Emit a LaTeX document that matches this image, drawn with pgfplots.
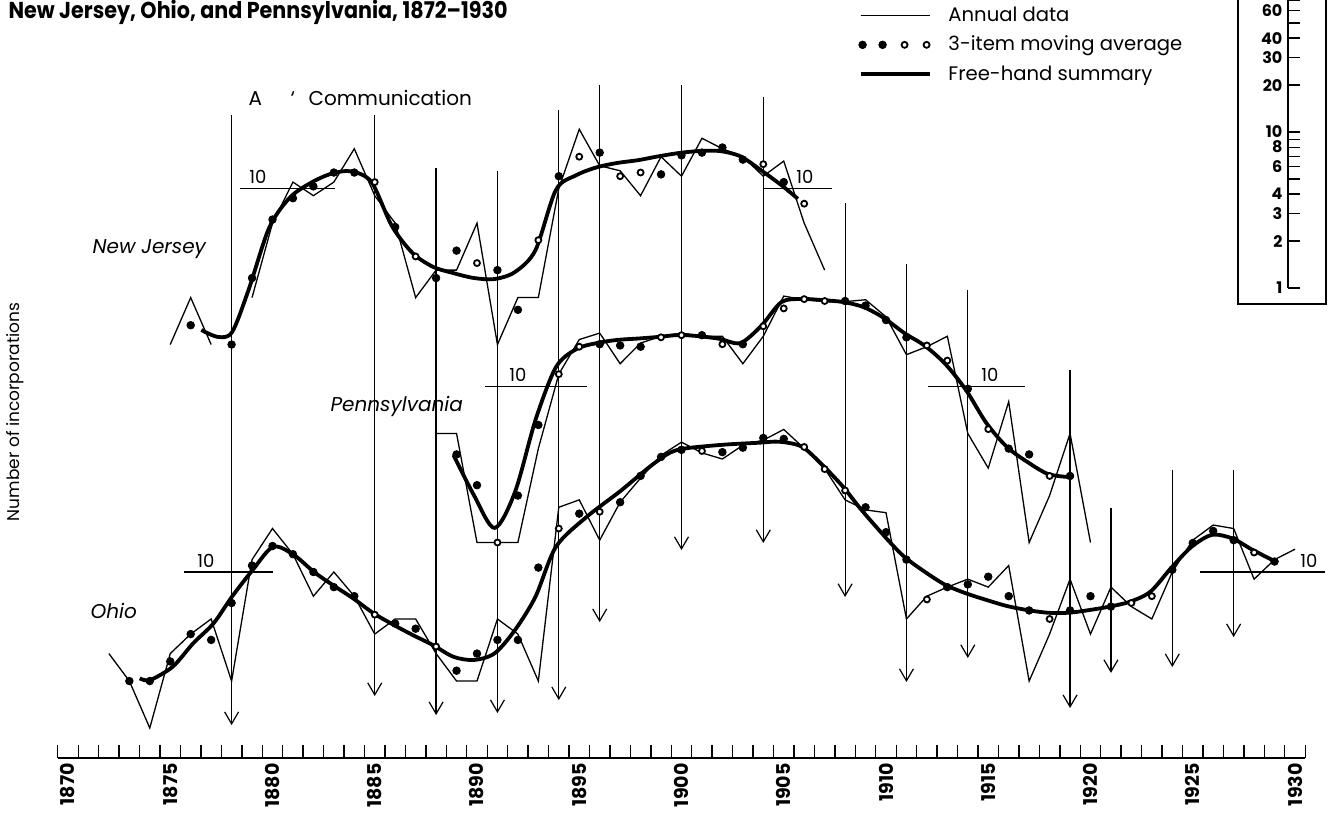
\documentclass[border=0pt]{standalone}
\usepackage{fontspec}
\setmainfont{Poppins}
\usepackage{pgfplots}
\usepackage{pgfplotstable}
\pgfplotsset{compat=1.18}
\usetikzlibrary{arrows.meta}

% ---------------- New Jersey ----------------
\pgfplotstableread{
yr c
1875 1
1876 2
1877 1
}\njAa
\pgfplotstableread{
yr c
1879 2
1880 6
1881 11
1882 9
1883 11
1884 18
1885 9
1886 6
1887 2
1888 3
1889 3
1890 6
1891 1
1892 2
1893 2
1894 10
1895 24
1896 14
1897 13
1898 9
1899 16
1900 12
1901 21
1902 18
1903 16
1904 12
1905 15
1906 6
1907 3
}\njAb
\pgfplotstableread{
yr c k
1876 1.33 f
1878 1.00 f
1879 2.67 f
1880 6.33 f
1881 8.67 f
1882 10.33 f
1883 12.67 f
1884 12.67 f
1885 11.00 o
1886 5.67 f
1887 3.67 o
1888 2.67 f
1889 4.00 f
1890 3.33 o
1891 3.00 f
1892 1.67 f
1893 4.67 o
1894 12.00 f
1895 16.00 o
1896 17.00 f
1897 12.00 o
1898 12.67 o
1899 12.33 f
1900 16.33 f
1901 17.00 f
1902 18.33 f
1903 15.33 f
1904 14.33 o
1905 11.00 f
1906 8.00 o
}\njMA
\pgfplotstableread{
yr c
1876.52 1.24
1877.32 1.12
1878.02 1.2
1878.83 2.24
1879.83 5.58
1880.83 8.7
1881.83 10.8
1882.84 12.4
1883.84 12.9
1884.84 11.0
1885.84 5.75
1886.85 3.86
1887.85 3.15
1888.85 2.87
1889.85 2.67
1890.86 2.63
1891.86 2.92
1892.86 4.03
1893.86 9.8
1894.87 12.2
1895.87 13.7
1896.87 14.6
1897.87 15.2
1898.88 16.1
1899.88 16.9
1900.88 17.4
1901.88 17.4
1902.88 16.1
1903.89 13.1
1904.89 10.5
1905.69 8.6
}\njF

% ---------------- Pennsylvania ----------------
\pgfplotstableread{
yr c
1888 5
1889 5
1890 1
1891 1
1892 1
1893 4
1894 12
1895 20
1896 22
1897 14
1898 19
1899 21
1900 22
1901 21
1902 21
1903 14
1904 21
1905 38
1906 36
1907 35
1908 35
1909 36
1910 28
1911 16
1912 18
1913 21
1914 5
1915 3
1916 8
1917 1
1918 2
1919 5
1920 1
}\paA
\pgfplotstableread{
yr c k
1889 3.67 f
1890 2.33 f
1891 1.00 o
1892 2.00 f
1893 5.67 f
1894 12.00 o
1895 18.00 o
1896 18.67 f
1897 18.33 f
1898 18.00 f
1899 20.67 o
1900 21.33 o
1901 21.33 f
1902 18.67 o
1903 18.67 f
1904 24.33 o
1905 31.67 o
1906 36.33 o
1907 35.33 o
1908 35.33 f
1909 33.00 f
1910 26.67 f
1911 20.67 f
1912 18.33 o
1913 14.67 o
1914 9.67 f
1915 5.33 o
1916 4.00 f
1917 3.67 f
1918 2.67 o
1919 2.67 f
}\paMA
\pgfplotstableread{
yr c
1888.85 3.64
1889.85 2.01
1890.86 1.24
1891.86 2.11
1892.86 6.1
1893.86 13.3
1894.87 17.4
1895.87 19
1896.87 19.9
1897.87 20.3
1898.88 20.8
1899.88 21.4
1900.88 21
1901.88 20.2
1902.88 19
1903.89 24.4
1904.89 34.8
1905.89 36.4
1906.89 35.8
1907.90 34.8
1908.90 32.3
1909.90 27.5
1910.90 22
1911.91 18.2
1912.91 13.9
1913.91 9.5
1914.91 5.83
1915.92 4.09
1916.92 3.28
1917.92 2.75
1918.92 2.63
}\paF

% ---------------- Ohio ----------------
\pgfplotstableread{
yr c
1872 3
1873 2
1874 1
1875 3
1876 4
1877 5
1878 2
1879 12
1880 19
1881 13
1882 7
1883 10
1884 7
1885 4
1886 5
1887 5
1888 3
1889 2
1890 2
1891 5
1892 4
1893 2
1894 26
1895 29
1896 16
1897 28
1898 40
1899 56
1900 68
1901 58
1902 53
1903 65
1904 70
1905 82
1906 62
1907 46
1908 29
1909 25
1910 24
1911 5
1912 7
1913 8
1914 9
1915 8
1916 11
1917 2
1918 4
1919 9
1920 4
1921 8
1922 6
1923 5
1924 10
1925 16
1926 20
1927 19
1928 9
1929 12
1930 14
}\ohA
\pgfplotstableread{
yr c k
1873 2.00 f
1874 2.00 f
1875 2.67 f
1876 4.00 f
1877 3.67 f
1878 6.33 f
1879 11.00 f
1880 14.67 f
1881 13.00 f
1882 10.00 f
1883 8.00 f
1884 7.00 f
1885 5.33 o
1886 4.67 f
1887 4.33 f
1888 3.33 o
1889 2.33 f
1890 3.00 f
1891 3.67 f
1892 3.67 f
1893 10.67 f
1894 19.00 o
1895 23.67 f
1896 24.33 o
1897 28.00 f
1898 41.33 f
1899 54.67 f
1900 60.67 f
1901 59.67 o
1902 58.67 f
1903 62.67 f
1904 72.33 f
1905 71.33 f
1906 63.33 o
1907 45.67 o
1908 33.33 o
1909 26.00 f
1910 18.00 f
1911 12.00 f
1912 6.67 o
1913 8.00 f
1914 8.33 f
1915 9.33 f
1916 7.00 f
1917 5.67 f
1918 5.00 o
1919 5.67 f
1920 7.00 f
1921 6.00 f
1922 6.33 o
1923 7.00 o
1924 10.33 f
1925 15.33 f
1926 18.33 f
1927 16.00 f
1928 13.33 o
1929 11.67 f
}\ohMA
\pgfplotstableread{
yr c
1873.51 2.08
1874.01 2.03
1875.12 2.47
1876.12 3.49
1877.12 4.69
1878.02 6.95
1879.03 10.3
1880.03 14.5
1881.03 12.9
1882.03 10.0
1882.94 8.26
1883.94 6.78
1884.94 5.44
1885.94 4.57
1886.85 3.95
1887.85 3.40
1888.85 2.86
1889.85 2.73
1890.86 3.01
1891.86 4.25
1892.86 6.95
1893.86 14.5
1895.37 22.6
1896.97 32.7
1898.67 49.8
1899.78 60.5
1901.88 65.2
1903.79 67.4
1904.79 68.4
1905.89 63.5
1906.89 48.5
1907.90 35.2
1908.80 25.0
1910.10 16.0
1910.90 12.5
1911.91 10.0
1912.91 8.26
1913.91 7.30
1914.91 6.62
1915.92 6.05
1916.92 5.70
1917.92 5.48
1918.92 5.48
1919.93 5.70
1920.93 6.00
1921.93 6.45
1922.93 7.48
1923.94 10.6
1924.94 14.5
1925.94 17.3
1926.94 16.4
1927.95 13.8
1929.15 11.5
}\ohF

\pgfplotsset{
  nj/.style={y filter/.expression={ln(y)/ln(10)+2.458}},
  pa/.style={y filter/.expression={ln(y)/ln(10)+1.189}},
  oh/.style={y filter/.expression={ln(y)/ln(10)}},
  ann/.style={forget plot, black, line width=0.65pt, mark=none},
  fh/.style={forget plot, black, line width=1.9pt, smooth, mark=none},
  ma/.style={forget plot, only marks, scatter, scatter src=explicit symbolic,
     scatter/classes={
       f={mark=*, mark size=1.9pt, draw=black, fill=black},
       o={mark=*, mark size=1.5pt, draw=black, fill=white, line width=0.9pt}}},
}
\tikzset{
  arr/.style={black, line width=0.6pt, -{Straight Barb[length=6pt,width=7pt,line width=0.6pt]}},
}

\begin{document}
\begin{tikzpicture}
\begin{axis}[
  x=10.225pt, y=78pt,
  xmin=1869.5, xmax=1930.5, ymin=-0.1923, ymax=4.6667,
  axis x line=bottom, axis y line=none, ytick=\empty,
  x axis line style={-, line width=0.7pt},
  xtick={1870,1875,...,1930},
  minor xtick={1869.5,1870.5,...,1930.5},
  tick align=inside,
  major tick length=0pt, minor tick length=6.5pt,
  every tick/.style={black, line width=0.7pt},
  xticklabel style={rotate=90, anchor=east, inner sep=2.5pt, font=\bfseries\fontsize{9.5}{11}\selectfont},
  /pgf/number format/1000 sep={},
  /pgf/number format/assume math mode=true,
  clip=false,
  legend cell align=left,
  legend style={at={(axis cs:1908.63,4.64)}, anchor=north west, draw=none, fill=none,
    font=\fontsize{9.8}{11.5}\selectfont, inner sep=0pt, column sep=7.5pt, row sep=3.9pt,
    nodes={inner sep=1pt}},
]
\addlegendimage{legend image code/.code={\draw[line width=0.65pt] (0pt,0pt) -- (34.5pt,0pt);}}
\addlegendentry{Annual data}
\addlegendimage{legend image code/.code={
  \fill (1pt,0pt) circle (1.9pt); \fill (11pt,0pt) circle (1.9pt);
  \draw[line width=0.9pt, fill=white] (22pt,0pt) circle (1.5pt);
  \draw[line width=0.9pt, fill=white] (33pt,0pt) circle (1.5pt);}}
\addlegendentry{3-item moving average}
\addlegendimage{legend image code/.code={\draw[line width=1.9pt] (0pt,0pt) -- (34.5pt,0pt);}}
\addlegendentry{Free-hand summary}

% business-cycle trough arrows
\draw[arr] (axis cs:1878,3.929) -- (axis cs:1878,0.019);
\draw[arr] (axis cs:1885,3.929) -- (axis cs:1885,0.205);
\draw[arr] (axis cs:1888,3.590) -- (axis cs:1888,0.083);
\draw[arr] (axis cs:1891,3.571) -- (axis cs:1891,0.096);
\draw[arr] (axis cs:1894,3.962) -- (axis cs:1894,0.179);
\draw[arr] (axis cs:1896,4.122) -- (axis cs:1896,0.679);
\draw[arr] (axis cs:1900,4.122) -- (axis cs:1900,1.141);
\draw[arr] (axis cs:1904,4.045) -- (axis cs:1904,1.186);
\draw[arr] (axis cs:1908,3.365) -- (axis cs:1908,0.840);
\draw[arr] (axis cs:1911,2.974) -- (axis cs:1911,0.295);
\draw[arr] (axis cs:1914,2.808) -- (axis cs:1914,0.449);
\draw[arr] (axis cs:1919,2.295) -- (axis cs:1919,0.128);
\draw[arr] (axis cs:1921,1.410) -- (axis cs:1921,0.353);
\draw[arr] (axis cs:1924,1.654) -- (axis cs:1924,0.391);
\draw[arr] (axis cs:1927,1.654) -- (axis cs:1927,0.583);

% New Jersey
\addplot[ann, nj] table[x=yr, y=c] {\njAa};
\addplot[ann, nj] table[x=yr, y=c] {\njAb};
\addplot[fh, nj] table[x=yr, y=c] {\njF};
\addplot[ma, nj] table[x=yr, y=c, meta=k] {\njMA};
% Pennsylvania
\addplot[ann, pa] table[x=yr, y=c] {\paA};
\addplot[fh, pa] table[x=yr, y=c] {\paF};
\addplot[ma, pa] table[x=yr, y=c, meta=k] {\paMA};
% Ohio
\addplot[ann, oh] table[x=yr, y=c] {\ohA};
\addplot[fh, oh] table[x=yr, y=c] {\ohF};
\addplot[ma, oh] table[x=yr, y=c, meta=k] {\ohMA};

\coordinate (O) at (axis cs:1866.675,4.6667);
\end{axis}

\begin{scope}[shift={(O)}, x=0.5pt, y=-0.5pt, line width=0.6pt]
  \node[anchor=base west, inner sep=0pt, font=\bfseries\fontsize{11.5}{13}\selectfont] at (8,19)
    {\scalebox{0.9}[1]{New Jersey, Ohio, and Pennsylvania, 1872--1930}};
  \node[anchor=base west, inner sep=0pt, font=\fontsize{10}{12}\selectfont] at (248,106) {A};
  \node[anchor=base west, inner sep=0pt, font=\fontsize{10}{12}\selectfont] at (290,106) {`};
  \node[anchor=base west, inner sep=0pt, font=\fontsize{10}{12}\selectfont] at (308,106) {Communication};
  \node[anchor=base west, inner sep=0pt, font=\itshape\fontsize{10}{12}\selectfont] at (92,254) {New Jersey};
  \node[anchor=base west, inner sep=0pt, font=\itshape\fontsize{10}{12}\selectfont] at (330,412) {Pennsylvania};
  \node[anchor=base west, inner sep=0pt, font=\itshape\fontsize{10}{12}\selectfont] at (90,619) {Ohio};
  \node[rotate=90, inner sep=0pt, font=\fontsize{8.5}{10}\selectfont] at (15,412) {Number of incorporations};
  % reference lines for the value 10
  \draw (240,188.5) -- (335,188.5);
  \draw (763,188.5) -- (832,188.5);
  \draw (485,386.5) -- (587,386.5);
  \draw (928,386.5) -- (1025,386.5);
  \draw (184,572) -- (273,572);
  \draw (1200,572) -- (1325,572);
  \foreach \q/\p in {258/184, 805/184, 518/382, 990/382, 206/568, 1309/568}
    \node[anchor=base, inner sep=0pt, font=\fontsize{9}{10}\selectfont] at (\q,\p) {10};
  % ratio scale
  \draw (1238,-20) rectangle (1326,304);
  \draw (1288,-20) -- (1288,288);
  \foreach \v in {1,2,3,4,5,6,7,8,9,10,20,30,40,50,60,70}
    \draw (1288,{288-156*log10(\v)}) -- (1300,{288-156*log10(\v)});
  \foreach \v in {1,2,3,4,6,8,10,20,30,40,60}
    \node[anchor=east, inner sep=0pt, font=\bfseries\fontsize{8}{10}\selectfont] at (1283,{288-156*log10(\v)}) {\v};
\end{scope}

\pgfresetboundingbox
\path[use as bounding box] (O) rectangle ++(670.5pt,-407.5pt);
\end{tikzpicture}
\end{document}
